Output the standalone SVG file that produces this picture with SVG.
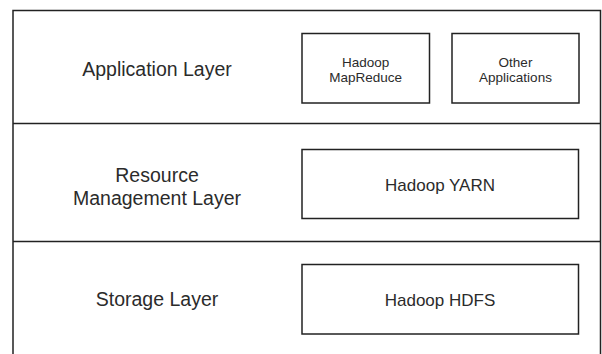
<svg xmlns="http://www.w3.org/2000/svg" width="602" height="354" viewBox="0 0 602 354">
<style>
.frame{fill:none;stroke:#222;stroke-width:1.5}
.box{fill:#fff;stroke:#222;stroke-width:1.5}
text{font-family:"Liberation Sans",Arial,sans-serif;fill:#2b2b2b;text-anchor:middle}
.lbl{font-size:19.5px}
.big{font-size:17px}
.sm{font-size:13.5px}
</style>
<rect width="602" height="354" fill="#fff"/>
<g id="layers">
<path class="frame" d="M13,356 V10.5 H600.5 V356"/>
<line class="frame" x1="13" y1="123.5" x2="600.5" y2="123.5"/>
<line class="frame" x1="13" y1="241.5" x2="600.5" y2="241.5"/>
</g>
<g id="application-layer">
<text class="lbl" x="157" y="76">Application Layer</text>
</g>
<g id="resource-layer">
<text class="lbl" x="157" y="182">Resource</text>
<text class="lbl" x="157" y="205">Management Layer</text>
</g>
<g id="storage-layer">
<text class="lbl" x="157" y="305.5">Storage Layer</text>
</g>
<g id="mapreduce">
<rect class="box" x="302" y="33.5" width="127.5" height="69.5"/>
<text class="sm" x="365.7" y="66.5">Hadoop</text>
<text class="sm" x="365.7" y="82">MapReduce</text>
</g>
<g id="other-apps">
<rect class="box" x="452" y="33.5" width="127" height="69.5"/>
<text class="sm" x="515.5" y="66.5">Other</text>
<text class="sm" x="515.5" y="82">Applications</text>
</g>
<g id="yarn">
<rect class="box" x="302" y="149.5" width="276.5" height="69"/>
<text class="big" x="440" y="190.5">Hadoop YARN</text>
</g>
<g id="hdfs">
<rect class="box" x="302" y="264.5" width="276.5" height="69.5"/>
<text class="big" x="440" y="305.5">Hadoop HDFS</text>
</g>
<g id="connectors"></g>
</svg>
